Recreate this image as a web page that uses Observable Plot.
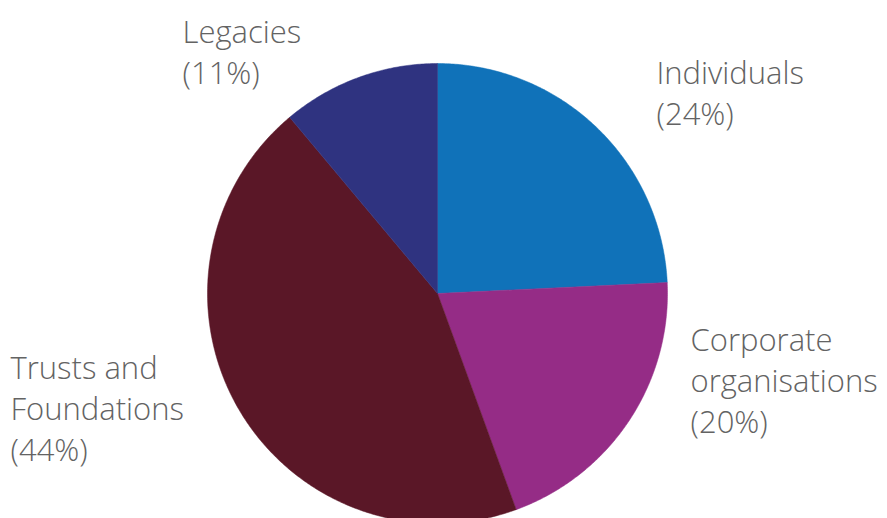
<!DOCTYPE html>
<html>
<head>
<meta charset="utf-8">
<script src="https://cdn.jsdelivr.net/npm/d3@7"></script>
<script src="https://cdn.jsdelivr.net/npm/@observablehq/plot@0.6"></script>
<style>
  html, body { margin: 0; padding: 0; background: #fff; overflow: hidden; }
  #chart svg { display: block; overflow: hidden; }
</style>
</head>
<body>
<div id="chart"></div>
<script>
// ---- data ----
const categories = ["Individuals", "Corporate organisations", "Trusts and Foundations", "Legacies"];
const shares = [24, 20, 44, 11];
const labelLines = [
  ["Individuals", "(24%)"],
  ["Corporate", "organisations", "(20%)"],
  ["Trusts and", "Foundations", "(44%)"],
  ["Legacies", "(11%)"]
];
const colors = ["#1072b9", "#952c86", "#5a1727", "#2f3380"];

// ---- layout (pixels) ----
const W = 887, H = 518;
const cx = 437, cy = 293, R = 230;
const fontSize = 31, lineGap = 41;
// left edge and baseline of the LAST line of each label block, in pixels
const labelAnchor = [
  {px: 656, py: 124},
  {px: 690, py: 432},
  {px: 10, py: 460},
  {px: 182, py: 83}
];

// ---- build slices through d3.pie (angles from 12 o'clock, clockwise) ----
const pie = d3.pie().sort(null).value(d => d)(shares);
const slicePts = [];
pie.forEach((p, i) => {
  const name = categories[i];
  slicePts.push({name, x: 0, y: 0});
  const n = Math.max(2, Math.ceil((p.endAngle - p.startAngle) / (Math.PI / 360)));
  for (let k = 0; k <= n; k++) {
    const a = p.startAngle + (p.endAngle - p.startAngle) * k / n;
    slicePts.push({name, x: Math.sin(a), y: Math.cos(a)});
  }
  slicePts.push({name, x: 0, y: 0});
});

// labels in data coordinates (unit circle space)
const toX = px => (px - cx) / R;
const toY = py => (cy - py) / R;
const labels = labelLines.map((lines, i) => ({
  text: lines.join("\n"),
  x: toX(labelAnchor[i].px),
  y: toY(labelAnchor[i].py)
}));

const chart = Plot.plot({
  width: W,
  height: H,
  margin: 0,
  x: {domain: [toX(0), toX(W)], range: [0, W], axis: null},
  y: {domain: [toY(H), toY(0)], range: [H, 0], axis: null},
  color: {domain: categories, range: colors},
  style: {fontFamily: "'Open Sans', sans-serif", background: "#fff"},
  marks: [
    Plot.line(slicePts, {x: "x", y: "y", z: "name", fill: "name", stroke: "name", strokeWidth: 0.5, curve: "linear"}),
    Plot.text(labels, {
      x: "x", y: "y", text: "text", textAnchor: "start", lineAnchor: "bottom",
      lineHeight: lineGap / fontSize, fontSize, fill: "#636363", fontWeight: 300
    })
  ]
});
document.getElementById("chart").append(chart);
</script>
</body>
</html>
